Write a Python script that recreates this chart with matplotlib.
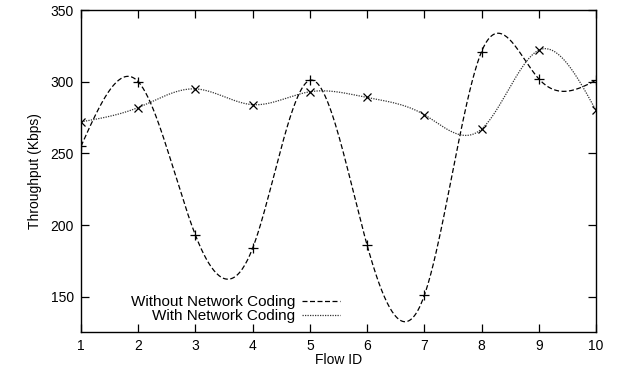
import numpy as np
import matplotlib
matplotlib.use("Agg")
import matplotlib.pyplot as plt

plt.rcParams['font.family'] = ['Liberation Sans', 'DejaVu Sans']

# Flow IDs and throughput values (Kbps)
flow_ids = [1, 2, 3, 4, 5, 6, 7, 8, 9, 10]
without_nc = [255, 300, 193, 184, 301, 186, 151, 321, 302, 301]
with_nc = [272, 282, 295, 284, 293, 289, 277, 267, 322, 280]


def natural_cspline(x, y, n=400):
    # natural cubic spline like gnuplot's "smooth csplines"
    x = np.asarray(x, float)
    y = np.asarray(y, float)
    k = len(x)
    h = np.diff(x)
    A = np.zeros((k, k))
    b = np.zeros(k)
    A[0, 0] = 1
    A[-1, -1] = 1
    for i in range(1, k - 1):
        A[i, i - 1] = h[i - 1]
        A[i, i] = 2 * (h[i - 1] + h[i])
        A[i, i + 1] = h[i]
        b[i] = 6 * ((y[i + 1] - y[i]) / h[i] - (y[i] - y[i - 1]) / h[i - 1])
    M = np.linalg.solve(A, b)
    xs = np.linspace(x[0], x[-1], n)
    idx = np.clip(np.searchsorted(x, xs) - 1, 0, k - 2)
    x0, x1 = x[idx], x[idx + 1]
    hi = x1 - x0
    t0 = x1 - xs
    t1 = xs - x0
    ys = (M[idx] * t0 ** 3 / (6 * hi) + M[idx + 1] * t1 ** 3 / (6 * hi)
          + (y[idx] / hi - M[idx] * hi / 6) * t0
          + (y[idx + 1] / hi - M[idx + 1] * hi / 6) * t1)
    return xs, ys


fig = plt.figure(figsize=(6.19, 3.70), dpi=100)
ax = fig.add_axes([81 / 619, 1 - 332 / 370, (596 - 81) / 619, (332 - 10) / 370])

xs, ys = natural_cspline(flow_ids, without_nc)
ax.plot(xs, ys, color='black', lw=0.9, dashes=(4, 2), label='Without Network Coding')
xs, ys = natural_cspline(flow_ids, with_nc)
ax.plot(xs, ys, color='#333333', lw=0.9, dashes=(1, 1), label='With Network Coding')

ax.plot(flow_ids, without_nc, ls='none', marker='+', ms=7, mew=0.9, color='black')
ax.plot(flow_ids, with_nc, ls='none', marker='x', ms=5.5, mew=0.9, color='black')

ax.set_xlim(1, 10)
ax.set_ylim(125.5, 350)
ax.set_xticks(flow_ids)
ax.set_yticks([150, 200, 250, 300, 350])
ax.tick_params(direction='in', length=6, width=0.9, top=True, right=True,
               labelsize=10, pad=5)
for s in ax.spines.values():
    s.set_linewidth(1.0)

ax.set_xlabel('Flow ID', fontsize=10, labelpad=0)
ax.set_ylabel('Throughput (Kbps)', fontsize=10, labelpad=6)

leg = ax.legend(loc='lower right', bbox_to_anchor=(0.503, 0.028), frameon=False,
                markerfirst=False, fontsize=11, handlelength=2.5,
                labelspacing=0.0, handletextpad=0.45, borderpad=0,
                borderaxespad=0)
for t in leg.get_texts():
    t.set_ha('right')

fig.savefig('out.png', dpi=100)
